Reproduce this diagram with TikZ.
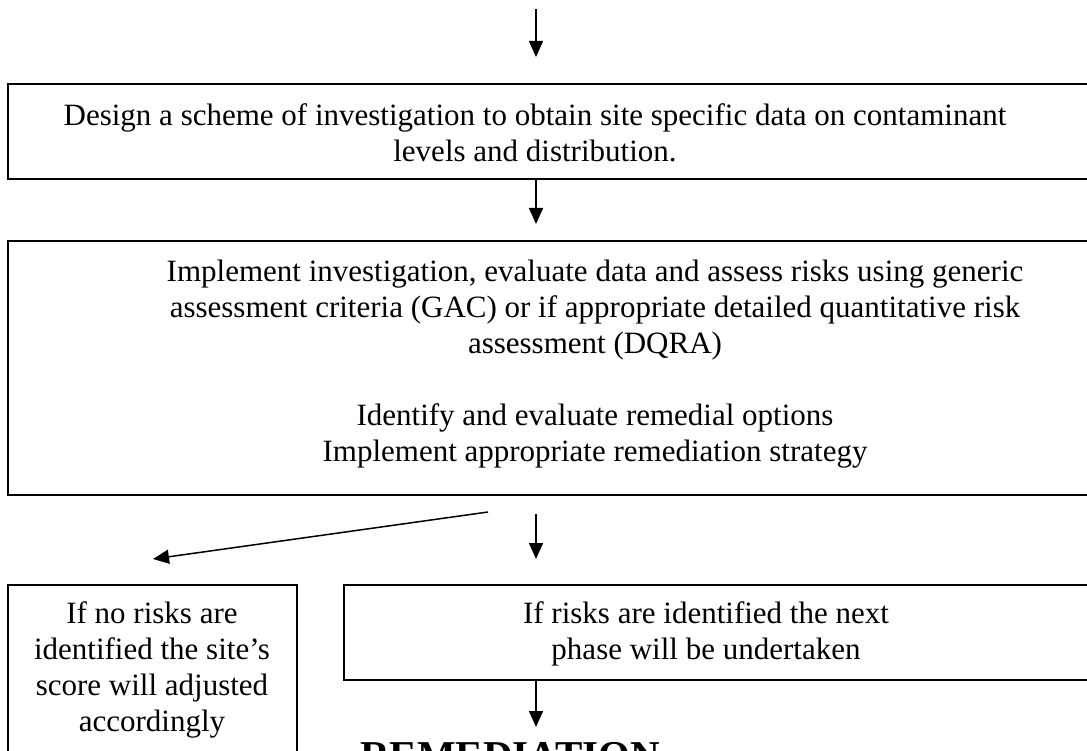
\documentclass[tikz,border=0pt]{standalone}
\usepackage{fontspec}
\setmainfont{Liberation Serif}
\usetikzlibrary{arrows.meta,positioning,calc}
\tikzset{
  stagebox/.style = {draw, line width=2pt, inner sep=0pt, anchor=north west},
  outcomebox/.style = {draw, line width=1.6pt, inner sep=0pt, anchor=north west},
  stagetext/.style = {align=center, inner sep=0pt, font=\fontsize{31}{36}\selectfont},
  trans/.style = {-{Triangle[length=16pt,width=14pt]}, line width=1.5pt}
  }

\begin{document}
\begin{tikzpicture}[x=1pt,y=-1pt]
\useasboundingbox (0,0) rectangle (1087,751);
% boxes run on past the right edge of the page
\node[stagebox, minimum width=1120pt, minimum height=95pt] (design) at (7,83) {};
\node[stagebox, minimum width=1120pt, minimum height=254pt] (implement) at (7,240) {};
\node[outcomebox, minimum width=289pt, minimum height=220pt] (norisk) at (7,584) {};
\node[outcomebox, minimum width=800pt, minimum height=95pt] (risk) at (343,584) {};

\node[stagetext] (designtxt) at (535,133) {Design a scheme of investigation to obtain site specific data on contaminant\\levels and distribution.};
\node[stagetext] (implementtxt) at (595,364) {Implement investigation, evaluate data and assess risks using generic\\assessment criteria (GAC) or if appropriate detailed quantitative risk\\assessment (DQRA)\\[36pt]Identify and evaluate remedial options\\Implement appropriate remediation strategy};
\node[stagetext] (norisktxt) at (152,670) {If no risks are\\identified the site’s\\score will adjusted\\accordingly};
\node[stagetext] (risktxt) at (706,634) {If risks are identified the next\\phase will be undertaken};
\node[font=\fontsize{41}{48}\selectfont\bfseries, inner sep=0pt, anchor=north west] (remediation) at (360,742) {REMEDIATION};

\coordinate (entry) at (536,9);
\coordinate (fork) at (488,512);
\coordinate (forkend) at (153,559);

\draw[trans, shorten >=26pt] (entry) -- (entry |- design.north);
\draw[trans, shorten >=16pt] (entry |- design.south) -- (entry |- implement.north);
\draw[trans, shorten <=18pt, shorten >=25pt] (entry |- implement.south) -- (entry |- risk.north);
\draw[trans] (fork) -- (forkend);
\draw[trans, shorten >=15pt] (entry |- risk.south) -- (entry |- remediation.north);
\end{tikzpicture}
\end{document}
